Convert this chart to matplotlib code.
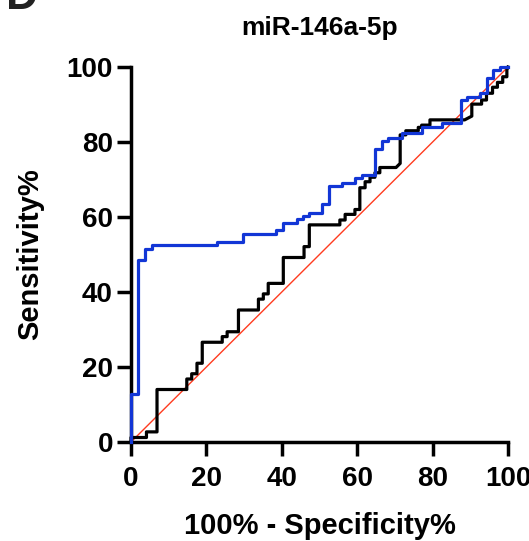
# ROC curve - miR-146a-5p (panel D)

import matplotlib
matplotlib.use("Agg")
import matplotlib.pyplot as plt

plt.rcParams['font.family'] = ['Liberation Sans', 'DejaVu Sans']
plt.rcParams['font.weight'] = 'bold'

# ROC points (100% - specificity, sensitivity)
blue_fpr = [0, 0, 1.9, 1.9, 3.7, 3.7, 5.5, 5.5, 22.7, 22.7, 29.8, 29.8, 38.5, 38.5,
            40.4, 40.4, 43.9, 43.9, 45.5, 45.5, 47.2, 47.2, 50.7, 50.7, 52.6, 52.6,
            56.0, 56.0, 59.4, 59.4, 61.4, 61.4, 64.7, 64.7, 66.5, 66.5, 68.3, 68.3,
            71.8, 71.8, 77.1, 77.1, 82.4, 82.4, 87.5, 87.5, 89.0, 89.0, 92.6, 92.6,
            94.3, 94.3, 96.1, 96.1, 97.9, 97.9, 100]
blue_tpr = [0, 12.8, 12.8, 48.5, 48.5, 51.4, 51.4, 52.5, 52.5, 53.4, 53.4, 55.5, 55.5, 56.5,
            56.5, 58.5, 58.5, 59.5, 59.5, 60.4, 60.4, 61.2, 61.2, 63.5, 63.5, 68.3,
            68.3, 69.1, 69.1, 70.3, 70.3, 71.2, 71.2, 78.2, 78.2, 80.3, 80.3, 81.2,
            81.2, 82.3, 82.3, 83.9, 83.9, 85.0, 85.0, 91.2, 91.2, 92.1, 92.1, 93.2,
            93.2, 97.1, 97.1, 99.2, 99.2, 100, 100]

black_fpr = [0, 0, 4.1, 4.1, 6.9, 6.9, 14.8, 14.8, 16.1, 16.1, 17.5, 17.5, 18.9, 18.9,
             24.2, 24.2, 25.5, 25.5, 28.5, 28.5, 33.8, 33.8, 35.1, 35.1, 36.4, 36.4,
             40.4, 40.4, 45.9, 45.9, 47.3, 47.3, 55.4, 55.4, 56.8, 56.8, 59.4, 59.4,
             60.7, 60.7, 62.1, 62.1, 63.4, 63.4, 64.7, 64.7, 66.0, 66.0, 70.3, 71.4,
             71.4, 72.9, 72.9, 76.2, 76.2, 77.1, 77.1, 79.3, 79.3, 88.5, 90.4, 90.4,
             93.0, 93.0, 94.3, 94.3, 95.9, 95.9, 97.2, 97.2, 98.6, 98.6, 99.7, 99.7, 100]
black_tpr = [0, 1.2, 1.2, 2.7, 2.7, 14.0, 14.0, 16.8, 16.8, 18.2, 18.2, 21.0, 21.0, 26.6,
             26.6, 28.1, 28.1, 29.4, 29.4, 35.2, 35.2, 38.1, 38.1, 39.5, 39.5, 42.3,
             42.3, 49.2, 49.2, 52.1, 52.1, 57.9, 57.9, 59.2, 59.2, 60.7, 60.7, 62.0,
             62.0, 67.8, 67.8, 69.4, 69.4, 70.6, 70.6, 71.8, 71.8, 73.2, 73.2, 74.3,
             81.9, 81.9, 83.0, 83.0, 83.9, 83.9, 84.5, 84.5, 85.9, 85.9, 86.9, 90.1,
             90.1, 91.2, 91.2, 93.0, 93.0, 94.6, 94.6, 95.9, 95.9, 97.4, 97.4, 99.2, 100]

ref_line = [0, 100]
ticks = [0, 20, 40, 60, 80, 100]

# ============================================================
# Figure
# ============================================================
fig = plt.figure(figsize=(5.29, 5.41), dpi=100)
ax = fig.add_axes([131 / 529, 99 / 541, 377 / 529, 375 / 541])

ax.plot(ref_line, ref_line, color='#ff3b1f', linewidth=1.0, zorder=1)
ax.plot(black_fpr, black_tpr, color='black', linewidth=2.3, clip_on=False, zorder=2)
ax.plot(blue_fpr, blue_tpr, color='#1236d6', linewidth=2.3, clip_on=False, zorder=3)

ax.set_xlim(0, 100)
ax.set_ylim(0, 100)
ax.set_xticks(ticks)
ax.set_yticks(ticks)

for s in ['top', 'right']:
    ax.spines[s].set_visible(False)
for s in ['left', 'bottom']:
    ax.spines[s].set_linewidth(2.5)

ax.tick_params(direction='out', length=10, width=2.5, labelsize=20)
ax.tick_params(axis='x', pad=7)
ax.tick_params(axis='y', pad=3)
for lab in ax.get_xticklabels() + ax.get_yticklabels():
    lab.set_fontweight('bold')

ax.set_xlabel("100% - Specificity%", fontsize=21, fontweight='bold', labelpad=15)
ax.set_ylabel("Sensitivity%", fontsize=21, fontweight='bold', labelpad=16)

fig.text(0.605, 0.948, "miR-146a-5p", ha='center', va='center',
         fontsize=19, fontweight='bold')
fig.text(0.012, 0.983, "D", ha='left', va='baseline', fontsize=32, fontweight='bold',
         color='#222222')

fig.savefig("out.png", dpi=100)
